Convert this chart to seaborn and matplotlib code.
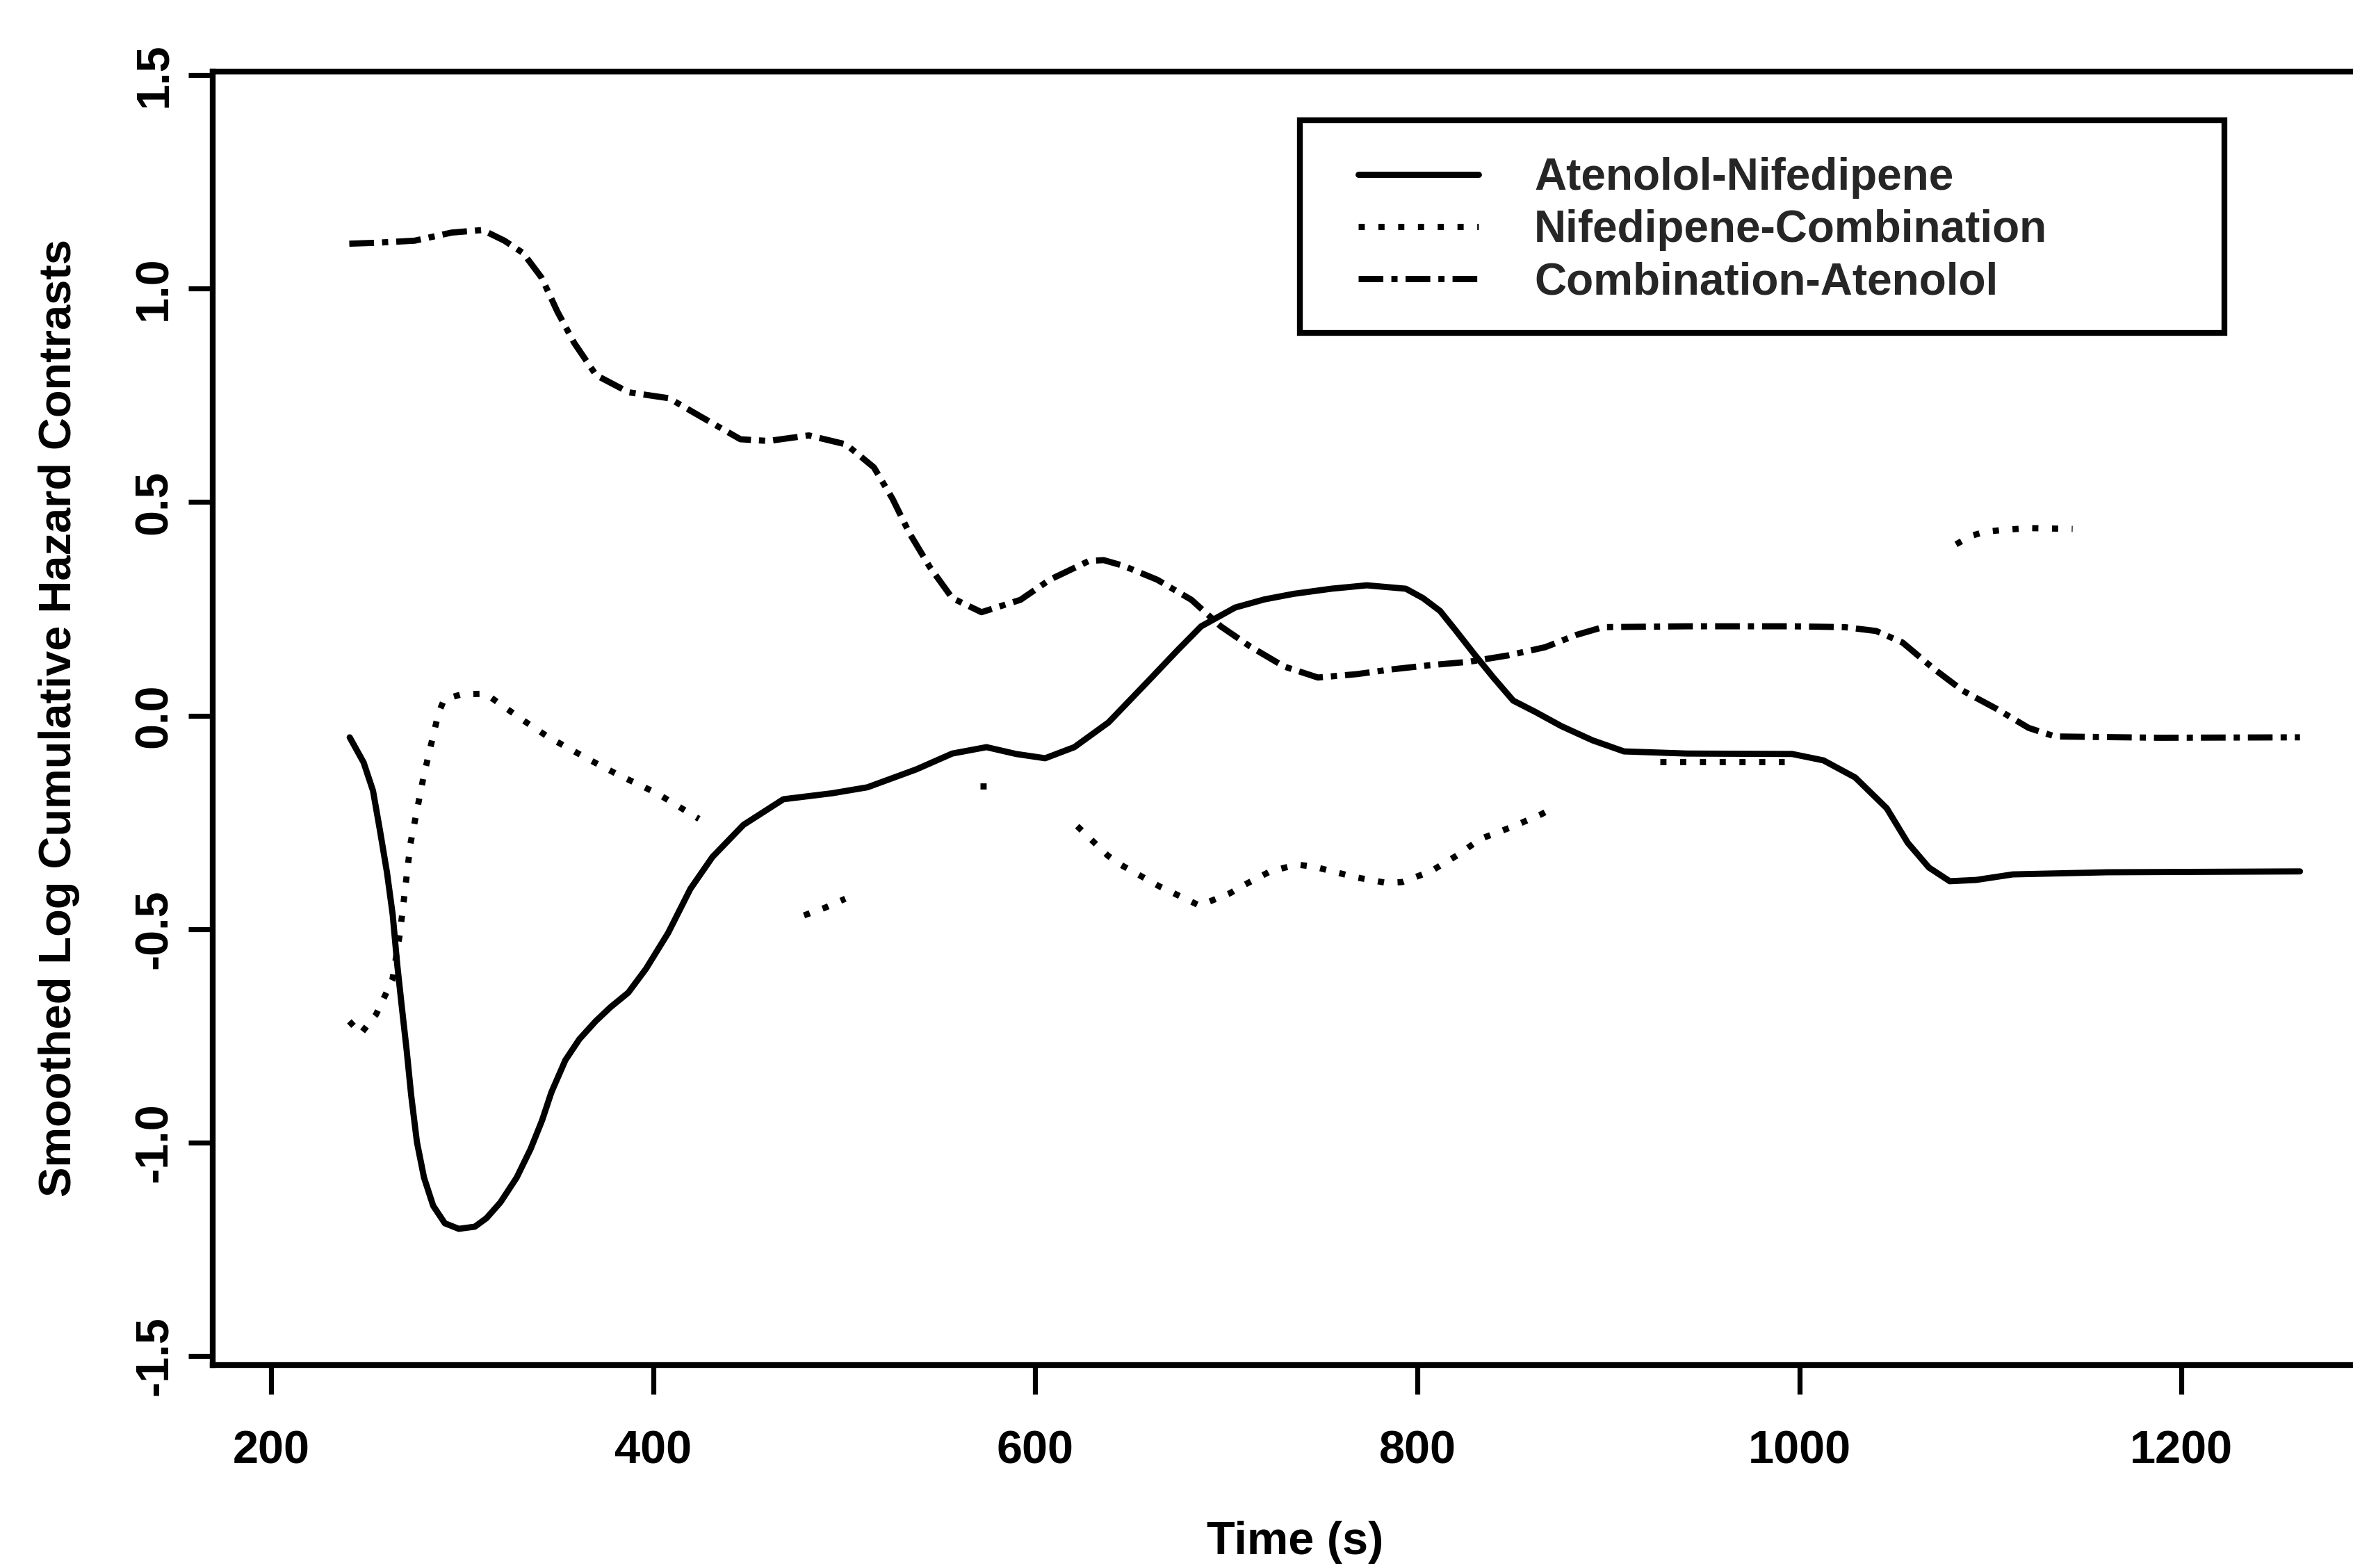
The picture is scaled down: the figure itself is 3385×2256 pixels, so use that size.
import numpy as np
import pandas as pd
import matplotlib
matplotlib.use("Agg")
import matplotlib.pyplot as plt
from matplotlib.patches import Rectangle
import seaborn as sns

# ---------------- data ----------------
contrast_names = ["Atenolol-Nifedipene", "Nifedipene-Combination", "Combination-Atenolol"]

an_time = [241.2, 248.5, 253.4, 257, 260.7, 263.7, 266.1, 268.5, 271, 273.4, 276.4, 280.1,
           284.9, 291, 298.3, 306.7, 312.8, 320.1, 328.6, 335.9, 341.9, 346.8, 354.1,
           361.4, 369.9, 377.7, 387, 396.3, 407.9, 419.5, 431.1, 447.3, 468.2, 493.7,
           512.2, 537.8, 556.6, 574.5, 590, 605.2, 620.5, 638.4, 658.8, 674.1, 686.9,
           704.7, 720, 735.3, 755, 773.6, 794, 803, 811.9, 820, 829.8, 840, 850.2, 862,
           875.5, 891.7, 908.2, 941.2, 996.2, 1012.6, 1029.2, 1045.7, 1056.7, 1067.8,
           1078.7, 1092.5, 1111.7, 1161.2, 1262]
an_value = [-0.051, -0.110, -0.176, -0.268, -0.367, -0.466, -0.584, -0.683, -0.783, -0.890,
            -0.999, -1.082, -1.148, -1.189, -1.202, -1.197, -1.177, -1.140, -1.082, -1.015,
            -0.948, -0.882, -0.807, -0.758, -0.716, -0.683, -0.649, -0.593, -0.509, -0.406,
            -0.331, -0.256, -0.196, -0.182, -0.168, -0.126, -0.089, -0.074, -0.090, -0.100,
            -0.074, -0.016, 0.079, 0.151, 0.209, 0.253, 0.272, 0.285, 0.297, 0.305, 0.297,
            0.275, 0.245, 0.200, 0.144, 0.088, 0.035, 0.008, -0.025, -0.058, -0.084,
            -0.089, -0.090, -0.105, -0.145, -0.217, -0.298, -0.356, -0.388, -0.385,
            -0.372, -0.367, -0.365]

# dotted contrast: visible pieces only (segment id marks the breaks in the reference)
nc_time = [241, 247, 255, 263.5, 267.5, 273, 280, 287.7, 290.7, 300, 312.4, 319.3, 332.3,
           345, 366.9, 381, 402, 424,
           479, 490, 500.6,
           571, 578,
           622, 638, 645, 665, 686, 702, 708, 723, 737, 746, 768, 784, 792, 807, 821, 833,
           850, 865, 872,
           927, 960, 992,
           1082, 1090, 1097, 1105, 1120, 1143]
nc_value = [-0.716, -0.745, -0.70, -0.62, -0.51, -0.30, -0.14, 0.006, 0.038, 0.05, 0.051,
            0.029, -0.012, -0.05, -0.104, -0.137, -0.182, -0.242,
            -0.468, -0.45, -0.429,
            -0.165, -0.165,
            -0.259, -0.328, -0.35, -0.40, -0.445, -0.416, -0.40, -0.365, -0.349, -0.354,
            -0.379, -0.392, -0.39, -0.365, -0.327, -0.289, -0.26, -0.231, -0.214,
            -0.109, -0.109, -0.109,
            0.401, 0.421, 0.43, 0.434, 0.439, 0.437]
nc_segment = ([0] * 18 + [1] * 3 + [2] * 2 + [3] * 19 + [4] * 3 + [5] * 6)

ca_time = [241, 254.3, 275.2, 294.6, 310.8, 322.2, 332, 341.7, 349.9, 358.8, 370.2, 387.2,
           408.4, 424.6, 445.7, 460.4, 481.5, 501, 515.6, 525.4, 534.2, 544.8, 556.6,
           571.9, 592.3, 607.6, 628.1, 635.8, 646, 663.9, 681.8, 697.1, 712.4, 730.2,
           748, 768.4, 786.4, 806.8, 827.3, 847.7, 866.9, 883.4, 897.2, 941.2, 996.2,
           1023.7, 1040.2, 1054, 1070.5, 1085.6, 1103.5, 1120, 1133.8, 1188.7, 1262]
ca_value = [1.105, 1.107, 1.112, 1.131, 1.137, 1.112, 1.083, 1.025, 0.946, 0.872, 0.797,
            0.757, 0.743, 0.701, 0.647, 0.643, 0.656, 0.635, 0.581, 0.507, 0.427, 0.348,
            0.275, 0.242, 0.271, 0.318, 0.362, 0.364, 0.351, 0.318, 0.271, 0.209, 0.162,
            0.115, 0.089, 0.097, 0.108, 0.118, 0.126, 0.141, 0.160, 0.189, 0.207, 0.209,
            0.209, 0.207, 0.198, 0.171, 0.109, 0.058, 0.015, -0.029, -0.049, -0.052,
            -0.051]

x_ticks = [200, 400, 600, 800, 1000, 1200]
y_ticks = [-1.5, -1.0, -0.5, 0.0, 0.5, 1.0, 1.5]
y_tick_labels = ["-1.5", "-1.0", "-0.5", "0.0", "0.5", "1.0", "1.5"]
x_label = "Time (s)"
y_label = "Smoothed Log Cumulative Hazard Contrasts"

# ---------------- long table ----------------
df = pd.concat([
    pd.DataFrame({"time": an_time, "value": an_value,
                  "contrast": contrast_names[0], "segment": "an0"}),
    pd.DataFrame({"time": nc_time, "value": nc_value,
                  "contrast": contrast_names[1],
                  "segment": ["nc%d" % s for s in nc_segment]}),
    pd.DataFrame({"time": ca_time, "value": ca_value,
                  "contrast": contrast_names[2], "segment": "ca0"}),
], ignore_index=True)

# ---------------- style ----------------
sns.set_theme(style="white")
plt.rcParams["font.family"] = ["Liberation Sans", "DejaVu Sans"]
plt.rcParams["font.weight"] = "bold"
plt.rcParams["axes.unicode_minus"] = False

W, H = 3385, 2256
DPI = 200
fig = plt.figure(figsize=(W / DPI, H / DPI), dpi=DPI, facecolor="white")
ax_l, ax_r, ax_t, ax_b = 306, 3420, 103, 1964
ax = fig.add_axes([ax_l / W, 1 - ax_b / H, (ax_r - ax_l) / W, (ax_b - ax_t) / H])

LW = 3.2
dash_map = {
    contrast_names[0]: "",
    contrast_names[1]: (1.0, 2.2),
    contrast_names[2]: (4.0, 1.3, 1.0, 1.3),
}
sns.lineplot(data=df, x="time", y="value", style="contrast", style_order=contrast_names,
             units="segment", estimator=None, sort=False, color="black",
             dashes=dash_map, linewidth=LW, ax=ax, legend=True,
             solid_joinstyle="round", dash_joinstyle="round")

ax.set_xlim(169.5, 1302.5)
ax.set_ylim(-1.521, 1.508)
ax.set_xticks(x_ticks)
ax.set_xticklabels([str(v) for v in x_ticks])
ax.set_yticks(y_ticks)
ax.set_yticklabels(y_tick_labels, rotation=90, va="center")

for s in ax.spines.values():
    s.set_color("black")
    s.set_linewidth(3.0)

ax.tick_params(axis="x", direction="out", length=15, width=2.6, color="black",
               labelsize=24, pad=18.5, labelcolor="black", bottom=True)
ax.tick_params(axis="y", direction="out", length=12.6, width=2.6, color="black",
               labelsize=24, pad=6.3, labelcolor="black", left=True)

ax.set_xlabel(x_label, fontsize=24, color="black", fontweight="bold")
ax.set_ylabel(y_label, fontsize=23.4, color="black", fontweight="bold")
axw, axh = ax_r - ax_l, ax_b - ax_t
ax.xaxis.set_label_coords((1863 - ax_l) / axw, (ax_b - 2188) / axh)
ax.yaxis.set_label_coords((115 - ax_l) / axw, 0.5)

# legend
sns.move_legend(ax, "upper left",
                bbox_to_anchor=((1954 - ax_l) / axw, (ax_b - 226) / axh),
                frameon=False, title=None, fontsize=23, borderpad=0, borderaxespad=0,
                handlelength=2.7, handletextpad=1.26, labelspacing=0.24)
leg = ax.get_legend()
for h in leg.legend_handles:
    h.set_linewidth(LW)
    h.set_color("black")
for t in leg.get_texts():
    t.set_fontweight("bold")

# legend frame (drawn as in the reference, wider than the text)
ax.add_patch(Rectangle(((1870 - ax_l) / axw, (ax_b - 479) / axh),
                       (3200 - 1870) / axw, (479 - 173) / axh,
                       transform=ax.transAxes, fill=False, edgecolor="black",
                       linewidth=3.0, zorder=5, clip_on=False))

fig.savefig("out.png", dpi=DPI, facecolor="white")
